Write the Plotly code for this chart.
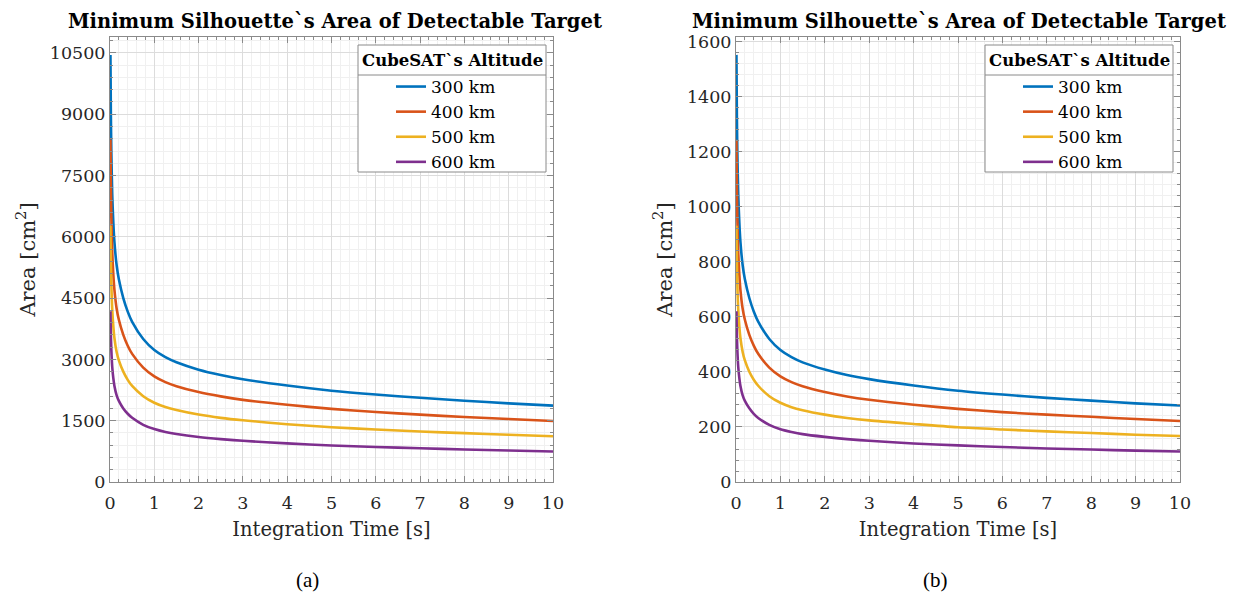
import plotly.graph_objects as go

# ---------------- data ----------------
t = [0.01, 0.02, 0.03, 0.05, 0.075, 0.1, 0.15, 0.2, 0.3, 0.4, 0.5, 0.75, 1, 1.25, 1.5, 2, 2.5, 3, 4, 5, 6, 7, 8, 9, 10]

altitudes = ["300 km", "400 km", "500 km", "600 km"]

# panel (a)
a_300 = [10450, 8950, 8100, 7050, 6350, 5870, 5300, 4960, 4500, 4170, 3920, 3500, 3230, 3055, 2930, 2750, 2620, 2515, 2360, 2235, 2140, 2060, 1990, 1925, 1868]
a_400 = [8380, 7160, 6480, 5640, 5080, 4700, 4240, 3970, 3600, 3335, 3135, 2800, 2585, 2445, 2345, 2200, 2095, 2010, 1890, 1790, 1712, 1648, 1592, 1540, 1493]
a_500 = [6270, 5370, 4860, 4230, 3810, 3520, 3180, 2975, 2700, 2500, 2350, 2100, 1940, 1835, 1760, 1650, 1570, 1510, 1415, 1340, 1285, 1235, 1195, 1155, 1118]
a_600 = [4180, 3580, 3240, 2820, 2540, 2350, 2120, 1985, 1800, 1670, 1570, 1400, 1295, 1225, 1175, 1102, 1050, 1008, 945, 895, 857, 825, 797, 770, 745]

# panel (b)
b_300 = [1553, 1330, 1204, 1048, 944, 872, 788, 737, 669, 620, 583, 520, 480, 454, 435, 409, 389, 374, 351, 332, 318, 306, 296, 286, 278]
b_400 = [1244, 1064, 963, 838, 755, 698, 630, 590, 535, 496, 466, 416, 384, 363, 348, 327, 311, 299, 281, 266, 254, 245, 237, 229, 222]
b_500 = [932, 798, 722, 629, 566, 523, 473, 442, 401, 372, 350, 312, 288, 272, 261, 245, 233, 224, 211, 199, 191, 184, 178, 172, 167]
b_600 = [621, 532, 482, 419, 378, 349, 315, 295, 268, 248, 233, 208, 192, 182, 174, 164, 156, 150, 140, 133, 127, 122, 118, 114, 111]

colors = ["#0072BD", "#D95319", "#EDB120", "#7E2F8E"]

a_y_ticks = [0, 1500, 3000, 4500, 6000, 7500, 9000, 10500]
b_y_ticks = [0, 200, 400, 600, 800, 1000, 1200, 1400, 1600]
x_ticks = [0, 1, 2, 3, 4, 5, 6, 7, 8, 9, 10]

title_text = "Minimum Silhouette`s Area of Detectable Target"
legend_title = "CubeSAT`s Altitude"

# ---------------- figure ----------------
W, H = 1245, 600
OFF = 8  # page body margin
px = lambda v: (v - OFF) / W
py = lambda v: 1 - (v - OFF) / H

SERIF = "DejaVu Serif"
fig = go.Figure()

for name, ys, c in zip(altitudes, [a_300, a_400, a_500, a_600], colors):
    fig.add_trace(go.Scatter(x=t, y=ys, name=name, mode="lines",
                             line=dict(color=c, width=2.6, shape="spline", smoothing=0.8),
                             xaxis="x", yaxis="y", legend="legend"))
for name, ys, c in zip(altitudes, [b_300, b_400, b_500, b_600], colors):
    fig.add_trace(go.Scatter(x=t, y=ys, name=name, mode="lines",
                             line=dict(color=c, width=2.6, shape="spline", smoothing=0.8),
                             xaxis="x2", yaxis="y2", legend="legend2"))

axis_common = dict(
    showline=True, linecolor="#8a8a8a", linewidth=1, mirror="allticks",
    ticks="inside", ticklen=6, tickcolor="#8a8a8a",
    showgrid=True, gridcolor="#dcdcdc", gridwidth=1, zeroline=False,
    tickfont=dict(family=SERIF, size=17.5, color="#262626"),
    automargin=False,
)

def xaxis(dom, anchor):
    return dict(axis_common, domain=dom, anchor=anchor, range=[0, 10],
                tickvals=x_ticks, ticktext=[str(v) for v in x_ticks],
                ticklabelstandoff=5,
                minor=dict(dtick=0.2, ticks="inside", ticklen=3, tickcolor="#8a8a8a",
                           showgrid=True, gridcolor="#f0f0f0"),
                title=dict(text="Integration Time [s]", standoff=10,
                           font=dict(family=SERIF, size=19.5, color="#262626")))

def yaxis(anchor, rng, ticks, minor):
    return dict(axis_common, domain=[py(482), py(37)], anchor=anchor, range=rng,
                tickvals=ticks, ticktext=[str(v) for v in ticks],
                minor=dict(dtick=minor, ticks="inside", ticklen=3, tickcolor="#8a8a8a",
                           showgrid=True, gridcolor="#f0f0f0"),
                title=dict(text="Area [cm<sup>2</sup>]", standoff=8,
                           font=dict(family=SERIF, size=21, color="#262626")))

shapes = []
annotations = []
for (x0, x1, cx_title, cx_leg, cap, capx) in [(358, 546, 335, 452, "(a)", 307), (985, 1173, 959, 1079, "(b)", 935)]:
    shapes.append(dict(type="rect", xref="paper", yref="paper", x0=px(x0), x1=px(x1), y0=py(172), y1=py(45),
                       fillcolor="white", line=dict(color="#8a8a8a", width=1), layer="above"))
    shapes.append(dict(type="line", xref="paper", yref="paper", x0=px(x0), x1=px(x1), y0=py(75), y1=py(75),
                       line=dict(color="#8a8a8a", width=1), layer="above"))
    annotations.append(dict(text="<b>" + title_text + "</b>", xref="paper", yref="paper", x=px(cx_title), y=py(8),
                            xanchor="center", yanchor="top", showarrow=False,
                            font=dict(family=SERIF, size=19.5, color="black")))
    annotations.append(dict(text="<b>" + legend_title + "</b>", xref="paper", yref="paper", x=px(cx_leg), y=py(60),
                            xanchor="center", yanchor="middle", showarrow=False,
                            font=dict(family=SERIF, size=16.5, color="black")))
    annotations.append(dict(text=cap, xref="paper", yref="paper", x=px(capx), y=py(580),
                            xanchor="center", yanchor="middle", showarrow=False,
                            font=dict(family="Liberation Serif", size=21, color="black")))

leg_common = dict(bgcolor="rgba(0,0,0,0)", borderwidth=0, xanchor="left", yanchor="top",
                  font=dict(family=SERIF, size=17, color="black"), tracegroupgap=0,
                  itemwidth=30)

fig.update_layout(
    width=W, height=H,
    margin=dict(l=0, r=0, t=0, b=0),
    paper_bgcolor="white", plot_bgcolor="white",
    xaxis=xaxis([px(110), px(553)], "y"),
    yaxis=yaxis("x", [0, 10890], a_y_ticks, 300),
    xaxis2=xaxis([px(736), px(1180)], "y2"),
    yaxis2=yaxis("x2", [0, 1618], b_y_ticks, 40),
    legend=dict(leg_common, x=px(391), y=py(69)),
    legend2=dict(leg_common, x=px(1018), y=py(69)),
    shapes=shapes,
    annotations=annotations,
    showlegend=True,
)

fig.write_html("out.html")
